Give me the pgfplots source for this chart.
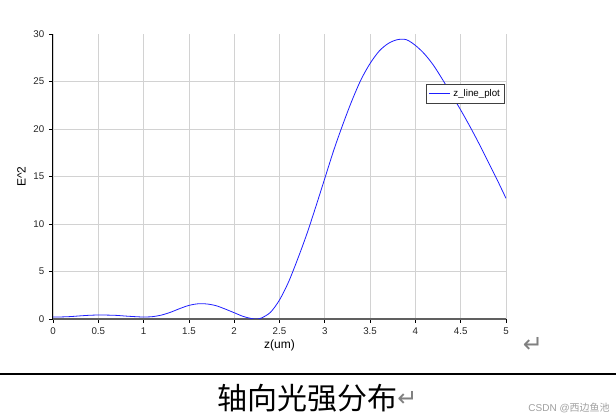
\documentclass[border=0pt]{standalone}
\usepackage{pgfplots}
\pgfplotsset{compat=1.18}
\usepackage{fontspec}
\setmainfont{Liberation Sans}
\newfontfamily\cjk{Noto Sans CJK SC}
\newfontfamily\djv{DejaVu Sans}
\definecolor{curveblue}{RGB}{30,30,255}
\begin{document}
\begin{tikzpicture}
\begin{scope}[x=0.75pt,y=0.75pt]
\path[use as bounding box] (0,0) rectangle (616,420);
\draw[line width=1.5pt] (0,46) -- (616,46);
\node[anchor=west, inner sep=0pt] at (217,22) {\cjk\fontsize{22.5}{24}\selectfont 轴向光强分布{\djv\color{gray}\fontsize{18}{18}\selectfont\raisebox{2pt}{↵}}};
\node[gray, inner sep=0pt] at (533,75) {\djv\fontsize{18}{18}\selectfont ↵};
\node[anchor=east, inner sep=0pt, text=gray!75] at (610,12) {\fontsize{7.5}{9}\selectfont CSDN @{\cjk 西边鱼池}};
\end{scope}
\begin{axis}[
  at={(39.75pt,75.75pt)}, anchor=south west,
  scale only axis, width=339.75pt, height=213.75pt,
  xmin=0, xmax=5, ymin=0, ymax=30,
  axis x line=bottom, axis y line=left,
  x axis line style={-, draw=gray!75!black, line width=1pt},
  y axis line style={-, draw=black, line width=0.75pt},
  xtick={0,0.5,...,5}, ytick={0,5,...,25},
  extra y ticks={30}, extra y tick style={grid=none},
  grid=major, grid style={gray!35, line width=0.6pt},
  tick align=outside, major tick length=3pt,
  tick style={black, line width=0.6pt},
  tick label style={font=\fontsize{7.3}{8}\selectfont, text=black!85},
  /pgf/number format/assume math mode=true,
  xlabel={z(um)}, ylabel={E\textasciicircum 2},
  label style={font=\fontsize{9}{10}\selectfont},
  xlabel style={yshift=3pt},
  ylabel style={yshift=-7pt},
  legend style={at={(rel axis cs:0.998,0.824)}, anchor=north east, draw=black!75, line width=0.7pt, font=\fontsize{7.3}{8}\selectfont, inner sep=1.5pt, legend cell align=left},
  legend image code/.code={\draw[curveblue, line width=0.8pt] (0cm,0cm) -- (0.55cm,0cm);},
]
\addplot[color=curveblue, line width=0.6pt, smooth] coordinates {
(0,0.21) (0.1,0.22) (0.2,0.26) (0.3,0.33) (0.4,0.39) (0.5,0.42) (0.6,0.41) (0.7,0.38) (0.8,0.31) (0.9,0.25)
(1.0,0.21) (1.1,0.25) (1.2,0.42) (1.3,0.72) (1.4,1.1) (1.5,1.43) (1.6,1.6) (1.7,1.58) (1.8,1.4) (1.9,1.05)
(2.0,0.66) (2.1,0.27) (2.2,0.03) (2.25,0.0) (2.3,0.1) (2.4,0.7) (2.5,2.0) (2.6,3.9) (2.7,6.3) (2.8,8.9)
(2.9,11.8) (3.0,14.8) (3.1,17.8) (3.2,20.5) (3.3,23.0) (3.4,25.2) (3.5,26.9) (3.6,28.2) (3.7,29.0) (3.8,29.4)
(3.9,29.4) (4.0,28.8) (4.1,27.9) (4.2,26.7) (4.3,25.2) (4.4,23.6) (4.5,22.0) (4.6,20.3) (4.7,18.5) (4.8,16.6)
(4.9,14.7) (5.0,12.7)
};
\addlegendentry{z\_line\_plot}
\end{axis}
\end{tikzpicture}
\end{document}
